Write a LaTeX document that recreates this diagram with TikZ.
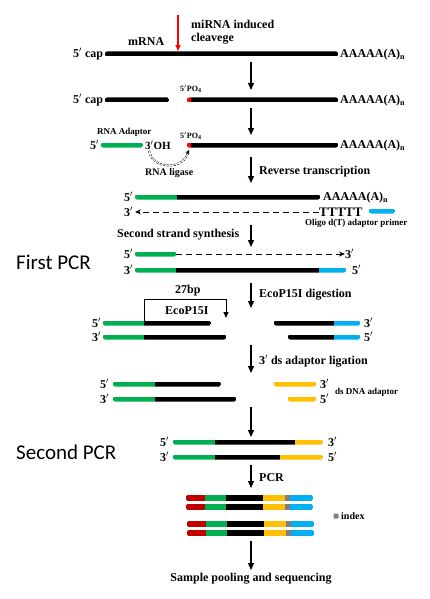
\documentclass[tikz,border=0pt]{standalone}
\usepackage{fontspec}
\setmainfont{Liberation Serif}
\newfontfamily\calib{Carlito}
\usetikzlibrary{arrows.meta}
\definecolor{dgreen}{HTML}{00B050}
\definecolor{cblue}{HTML}{00B0F0}
\definecolor{cyel}{HTML}{FFC000}
\definecolor{cred}{HTML}{C00000}
\definecolor{cgray}{HTML}{7F7F7F}
\newcommand\fp{5$^{\prime}$}
\newcommand\tp{3$^{\prime}$}
% #1 y, #2 x start, #3 x end, #4 segments a/b/colour, #5 half thickness
\newcommand\dbar[5]{\begin{scope}\clip[rounded corners=2pt] (#2,#1-#5) rectangle (#3,#1+#5);\foreach \a/\b/\c in {#4}{\fill[\c] (\a-0.2,#1-#5) rectangle (\b+0.2,#1+#5);}\end{scope}}
\begin{document}
\begin{tikzpicture}[x=1pt,y=-1pt,
  lbl/.style={font=\fontsize{12}{13}\selectfont\bfseries, inner sep=0pt, anchor=west},
  sml/.style={font=\fontsize{9}{10}\selectfont\bfseries, inner sep=0pt, anchor=west},
  tiny/.style={font=\fontsize{8}{9}\selectfont\bfseries, inner sep=0pt, anchor=west},
  big/.style={font=\fontsize{21}{24}\selectfont\calib, inner sep=0pt, anchor=west},
  steparrow/.style={-{Triangle[length=7pt,width=6pt]}, line width=1.3pt},
  dasharrow/.style={dashed, dash pattern=on 6pt off 4pt, line width=0.8pt, -{Stealth[length=6pt,width=5pt]}}]
\useasboundingbox (0,0) rectangle (430,599);

% ---- row 1: intact mRNA
\node[lbl] (cap1) at (73,54) {\fp\ cap};
\dbar{54}{105}{338}{105/338/black}{2.5}
\node[lbl] (polyA1) at (340,55) {AAAAA(A)\textsubscript{n}};
\node[lbl] (mrna) at (128,42) {mRNA};
\node[lbl] (mirna) at (191,24) {miRNA induced};
\node[lbl] (clv) at (191,39) {cleavege};
\coordinate (c1) at (178,15); \coordinate (c2) at (178,51);
\draw[red, line width=1.2pt, -{Triangle[length=6pt,width=5pt]}] (c1) -- (c2);
\coordinate (a1s) at (251,62); \coordinate (a1e) at (251,90);
\draw[steparrow] (a1s) -- (a1e);

% ---- row 2: cleaved
\node[lbl] (cap2) at (73,100) {\fp\ cap};
\dbar{100}{105}{169}{105/169/black}{2.5}
\dbar{100}{187}{338}{187/191/red,191/338/black}{2.5}
\node[tiny] (po1) at (180,89) {\fp PO\textsubscript{4}};
\node[lbl] (polyA2) at (340,101) {AAAAA(A)\textsubscript{n}};
\coordinate (a2s) at (251,108); \coordinate (a2e) at (251,135);
\draw[steparrow] (a2s) -- (a2e);

% ---- row 3: adaptor ligation
\node[sml] (rnaad) at (97,132) {RNA Adaptor};
\node[lbl] (f3) at (90,145) {\fp};
\dbar{145}{101}{143}{101/143/dgreen}{2.5}
\node[font=\fontsize{11}{12}\selectfont\bfseries, inner sep=0pt, anchor=west] (oh) at (145,145) {\tp OH};
\node[tiny] (po2) at (180,136) {\fp PO\textsubscript{4}};
\dbar{145}{187}{338}{187/191/red,191/338/black}{2.5}
\node[lbl] (polyA3) at (340,146) {AAAAA(A)\textsubscript{n}};
\coordinate (l1) at (149,151); \coordinate (l2) at (189,150);
\draw[dashed, dash pattern=on 2pt off 1.5pt, line width=0.5pt, double, double distance=1pt] (l1) .. controls (153,170) and (183,170) .. (188,153);
\draw[line width=0.6pt, -{Stealth[length=4pt,width=4pt]}] (186.5,155) -- (l2);
\node[font=\fontsize{10}{11}\selectfont\bfseries, inner sep=0pt, anchor=west] (lig) at (145,173) {RNA ligase};
\coordinate (a3s) at (251,157); \coordinate (a3e) at (251,183);
\draw[steparrow] (a3s) -- (a3e);
\node[lbl] (rt) at (259,172) {Reverse transcription};

% ---- rows 4-5: reverse transcription
\node[lbl] (f4) at (124,197) {\fp};
\dbar{197}{135}{320}{135/177/dgreen,177/320/black}{2.5}
\node[lbl] (polyA4) at (323,198) {AAAAA(A)\textsubscript{n}};
\node[lbl] (t5) at (124,212) {\tp};
\node[font=\fontsize{13}{14}\selectfont\bfseries, inner sep=0pt, anchor=west] (tt) at (319,212) {TTTTT};
\coordinate (d5) at (135,212);
\draw[dasharrow] (tt.west) -- (d5);
\dbar{211}{369}{395}{369/395/cblue}{2.5}
\node[sml] (oligo) at (305,223) {Oligo d(T) adaptor primer};
\coordinate (a4s) at (251,225); \coordinate (a4e) at (251,247);
\draw[steparrow] (a4s) -- (a4e);
\node[lbl] (sss) at (117,235) {Second strand synthesis};
\node[big] (fpcr) at (16,262) {First PCR};

% ---- rows 6-7
\node[lbl] (f6) at (124,254) {\fp};
\dbar{254}{135}{176}{135/176/dgreen}{2.5}
\node[lbl] (t6) at (345,254) {\tp};
\coordinate (d6s) at (176,254);
\draw[dasharrow] (d6s) -- (t6.west);
\node[lbl] (t7) at (124,270) {\tp};
\dbar{270}{135}{346}{135/176/dgreen,176/319/black,319/346/cblue}{2.5}
\node[lbl] (f7) at (352,270) {\fp};
\coordinate (a5s) at (251,283); \coordinate (a5e) at (251,308);
\draw[steparrow] (a5s) -- (a5e);
\node[lbl] (eco) at (259,295) {EcoP15I digestion};

% ---- rows 8-9: digestion
\node[lbl] (bp) at (175,291) {27bp};
\coordinate (b1) at (144,321); \coordinate (b2) at (226,318);
\draw[line width=0.9pt, -{Triangle[length=6pt,width=5pt]}] (b1) -- (144,299) -- (226,299) -- (b2);
\node[lbl] (ecoI) at (165,311) {EcoP15I};
\node[lbl] (f8) at (92,323) {\fp};
\dbar{323}{103}{211}{103/144/dgreen,144/211/black}{2.5}
\dbar{323}{274}{360}{274/334/black,334/360/cblue}{2.5}
\node[lbl] (t8) at (364,323) {\tp};
\node[lbl] (t9) at (92,337) {\tp};
\dbar{337}{103}{226}{103/144/dgreen,144/226/black}{2.5}
\dbar{337}{288}{360}{288/334/black,334/360/cblue}{2.5}
\node[lbl] (f9) at (364,337) {\fp};
\coordinate (a6s) at (251,345); \coordinate (a6e) at (251,373);
\draw[steparrow] (a6s) -- (a6e);
\node[lbl] (dsl) at (259,361) {\tp\ ds adaptor ligation};

% ---- rows 10-11
\node[lbl] (f10) at (100,384) {\fp};
\dbar{384}{113}{221}{113/155/dgreen,155/221/black}{2.5}
\dbar{384}{274}{316}{274/316/cyel}{2.5}
\node[lbl] (t10) at (320,384) {\tp};
\node[lbl] (t11) at (100,399) {\tp};
\dbar{399}{113}{236}{113/155/dgreen,155/236/black}{2.5}
\dbar{399}{288}{316}{288/316/cyel}{2.5}
\node[lbl] (f11) at (320,399) {\fp};
\node[sml] (dsdna) at (335,392) {ds DNA adaptor};
\coordinate (a7s) at (251,407); \coordinate (a7e) at (251,437);
\draw[steparrow] (a7s) -- (a7e);

% ---- rows 12-13
\node[lbl] (f12) at (160,442) {\fp};
\dbar{442}{173}{323}{173/215/dgreen,215/295/black,295/323/cyel}{2.5}
\node[lbl] (t12) at (328,442) {\tp};
\node[lbl] (t13) at (160,457) {\tp};
\dbar{457}{173}{323}{173/215/dgreen,215/280/black,280/323/cyel}{2.5}
\node[lbl] (f13) at (328,457) {\fp};
\node[big] (spcr) at (16,452) {Second PCR};
\coordinate (a8s) at (251,465); \coordinate (a8e) at (251,488);
\draw[steparrow] (a8s) -- (a8e);
\node[lbl] (pcr) at (259,478) {PCR};

% ---- PCR products
\foreach \yy in {498,507}{\dbar{\yy}{186}{313}{186/205/cred,205/226/dgreen,226/263/black,263/285/cyel,285/290/cgray,290/313/cblue}{3}}
\foreach \yy in {524,533}{\dbar{\yy}{187}{314}{187/206/cred,206/227/dgreen,227/264/black,264/286/cyel,286/291/cgray,291/314/cblue}{3}}
\fill[cgray, rounded corners=1pt] (333.5,513.5) rectangle (338.5,518.5);
\node[font=\fontsize{10}{11}\selectfont\bfseries, inner sep=0pt, anchor=west] (idx) at (341,516) {index};
\coordinate (a9s) at (251,541); \coordinate (a9e) at (251,570);
\draw[steparrow] (a9s) -- (a9e);
\node[font=\fontsize{12}{13}\selectfont\bfseries, inner sep=0pt] (seq) at (251,579) {Sample pooling and sequencing};
\end{tikzpicture}
\end{document}
